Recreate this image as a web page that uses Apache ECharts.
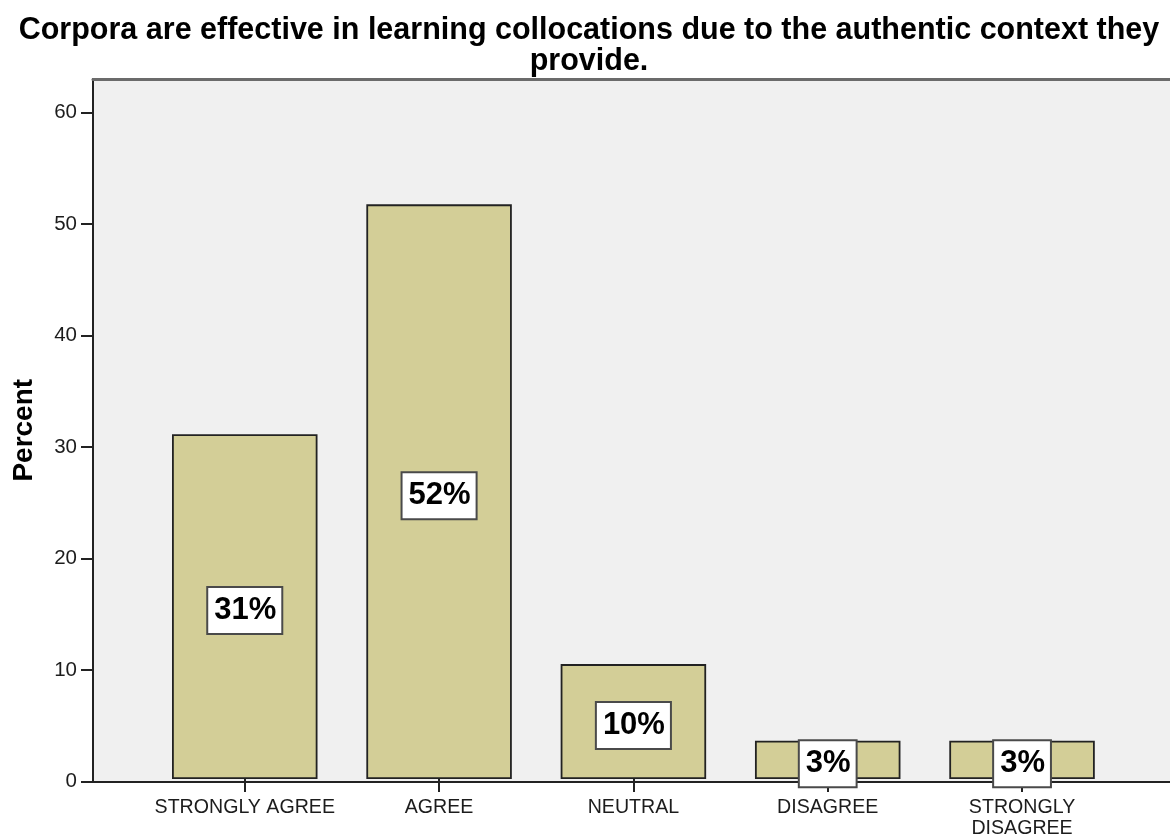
<!DOCTYPE html>
<html>
<head>
<meta charset="utf-8">
<script src="https://cdn.jsdelivr.net/npm/echarts@6/dist/echarts.min.js"></script>
<style>
  html, body { margin: 0; padding: 0; background: #ffffff; }
  #chart { width: 1170px; height: 839px; }
</style>
</head>
<body>
<div id="chart"></div>
<script>
// Survey responses (percent of respondents)
const categories = ['STRONGLY AGREE', 'AGREE', 'NEUTRAL', 'DISAGREE', 'STRONGLY\nDISAGREE'];
const percents = [31.03, 51.72, 10.34, 3.45, 3.45];
const yTicks = [0, 10, 20, 30, 40, 50, 60];
const yMax = 63;
const titleText = 'Corpora are effective in learning collocations due to the authentic context they\nprovide.';
const yName = 'Percent';

const FONT = '"Liberation Sans", Arial, sans-serif';
const INK = '#1c1c1c';

const chart = echarts.init(document.getElementById('chart'), null, { renderer: 'canvas' });

chart.setOption({
  backgroundColor: '#ffffff',
  animation: false,
  title: {
    text: titleText,
    left: 584,
    top: 10,
    textAlign: 'center',
    textStyle: {
      fontFamily: FONT, fontSize: 30.5, fontWeight: 'bold', color: '#000',
      lineHeight: 31
    }
  },
  grid: [
    // frame: background, value axis, baseline
    { left: 93, right: -3, top: 79, bottom: 57.5, show: true, backgroundColor: '#f0f0f0', borderWidth: 0 },
    // bars
    { left: 147.6, right: 50.8, top: 79, bottom: 57.5 }
  ],
  xAxis: [
    {
      gridIndex: 0, type: 'value', min: 0, max: 1, position: 'bottom',
      axisLine: { show: true, lineStyle: { color: '#222', width: 2 } },
      axisTick: { show: false }, axisLabel: { show: false }, splitLine: { show: false }
    },
    {
      gridIndex: 0, type: 'value', min: 0, max: 1, position: 'top',
      axisLine: { show: true, lineStyle: { color: '#6b6b6b', width: 3 } },
      axisTick: { show: false }, axisLabel: { show: false }, splitLine: { show: false }
    },
    {
      gridIndex: 1, type: 'category', data: categories,
      axisLine: { show: false },
      axisTick: { show: true, alignWithLabel: true, length: 13, lineStyle: { color: '#222', width: 2 } },
      axisLabel: {
        fontFamily: FONT, fontSize: 19.6, color: INK, margin: 18, lineHeight: 21,
        interval: 0, align: 'center'
      }
    }
  ],
  yAxis: [
    {
      gridIndex: 0, type: 'value', min: 0, max: yMax,
      name: yName, nameLocation: 'middle', nameGap: 55, nameRotate: 90,
      nameTextStyle: { fontFamily: FONT, fontSize: 28, fontWeight: 'bold', color: '#000' },
      axisLine: { show: true, lineStyle: { color: '#222', width: 2 } },
      axisTick: { show: true, length: 12, lineStyle: { color: '#222', width: 2 }, customValues: yTicks },
      axisLabel: { fontFamily: FONT, fontSize: 20.5, color: INK, margin: 16, customValues: yTicks },
      splitLine: { show: false }
    },
    {
      gridIndex: 1, type: 'value', min: 0, max: yMax, show: false
    }
  ],
  series: [
    {
      type: 'bar',
      xAxisIndex: 2,
      yAxisIndex: 1,
      data: percents,
      barWidth: 145.5,
      itemStyle: { color: '#d3ce97', borderColor: '#222', borderWidth: 1.8 },
      label: {
        show: true,
        position: 'inside',
        offset: [0, 4],
        formatter: p => Math.round(p.value) + '%',
        fontFamily: FONT, fontSize: 31, fontWeight: 'bold', color: '#000',
        backgroundColor: '#ffffff',
        borderColor: '#4a4a4a', borderWidth: 2,
        padding: [5, 5, 5, 6],
        lineHeight: 35
      }
    }
  ]
});
</script>
</body>
</html>
